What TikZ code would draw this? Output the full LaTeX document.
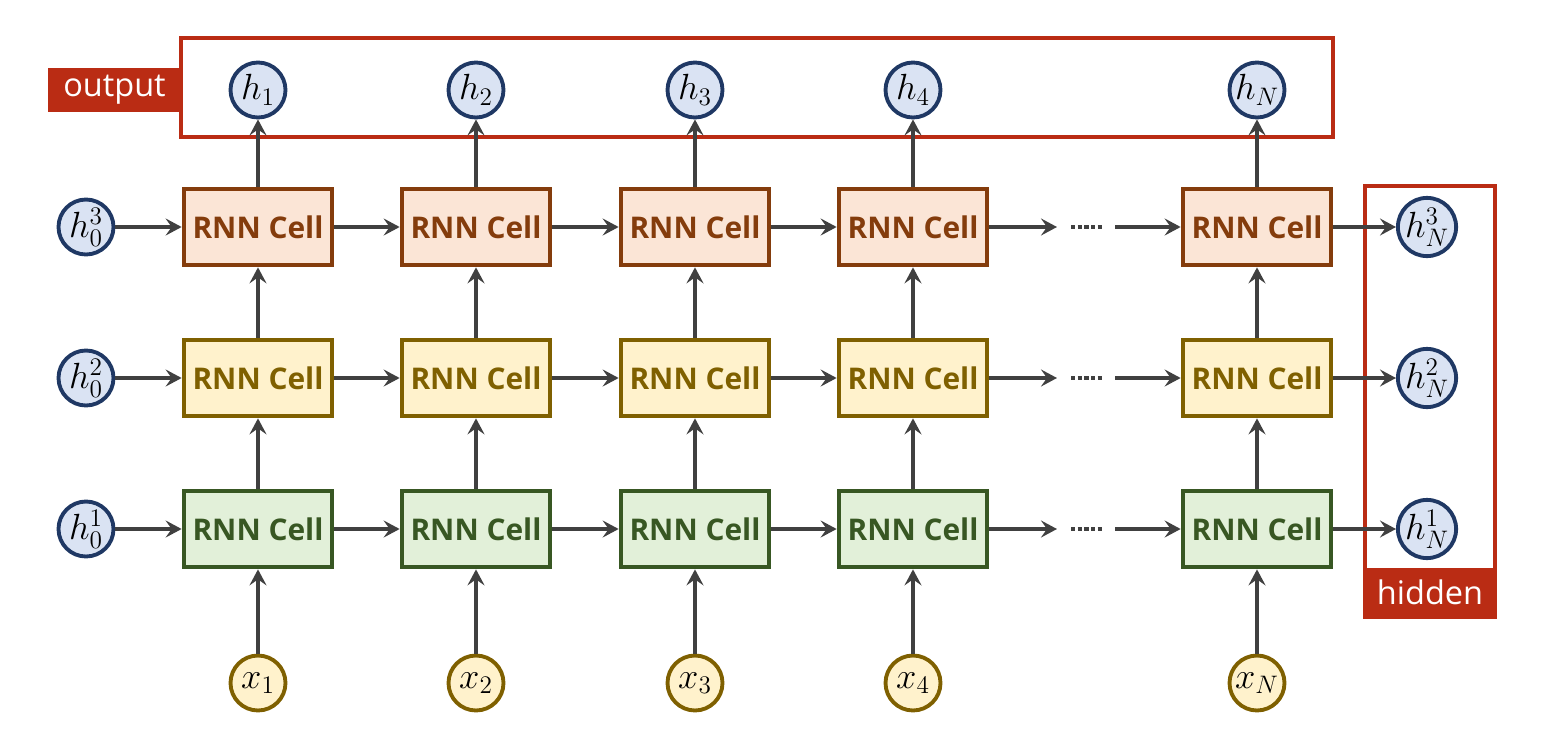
\documentclass[tikz,border=0pt]{standalone}
\usepackage{fontspec}
\setsansfont{Open Sans}
\usetikzlibrary{arrows.meta}
\definecolor{redc}{RGB}{186,44,20}
\definecolor{arr}{RGB}{64,64,64}
\definecolor{orB}{RGB}{132,60,12}\definecolor{orF}{RGB}{251,229,214}
\definecolor{yeB}{RGB}{127,96,0}\definecolor{yeF}{RGB}{255,242,204}
\definecolor{grB}{RGB}{56,87,35}\definecolor{grF}{RGB}{226,240,217}
\definecolor{blB}{RGB}{31,56,100}\definecolor{blF}{RGB}{218,227,243}
\tikzset{
  cellbox/.style={draw, line width=2.7pt, minimum width=2.96cm, minimum height=1.52cm,
    font=\sffamily\bfseries\fontsize{17}{20}\selectfont, inner sep=0pt},
  cellA/.style={cellbox, draw=orB, fill=orF, text=orB},
  cellB/.style={cellbox, draw=yeB, fill=yeF, text=yeB},
  cellC/.style={cellbox, draw=grB, fill=grF, text=grB},
  hcirc/.style={circle, draw=blB, fill=blF, line width=2.2pt, minimum size=1.1cm, inner sep=0pt,
    font=\fontsize{20}{22}\selectfont},
  xcirc/.style={circle, draw=yeB, fill=yeF, line width=2.2pt, minimum size=1.1cm, inner sep=0pt,
    font=\fontsize{20}{22}\selectfont},
  conn/.style={draw=arr, line width=2pt, -{Stealth[length=0.32cm, width=0.34cm, inset=0.12cm]}},
  redframe/.style={draw=redc, line width=2.8pt},
  redlabel/.style={fill=redc, text=white, inner sep=0pt, font=\sffamily\fontsize{18.5}{20}\selectfont},
}
\begin{document}
\begin{tikzpicture}[x=0.02cm, y=-0.02cm]
\useasboundingbox (0,0) rectangle (1551,730);
% red frames
\draw[redframe] (181,38) rectangle (1333,137);
\draw[redframe] (1365,186) rectangle (1495,617);
\node[redlabel, minimum width=2.66cm, minimum height=0.88cm] (outlab) at (114.5,90) {output};
\node[redlabel, minimum width=2.6cm, minimum height=0.98cm] (hidlab) at (1430,592.5) {hidden};
% left initial states
\node[hcirc] (h03) at (86,227) {$h_0^3$};
\node[hcirc] (h02) at (86,378) {$h_0^2$};
\node[hcirc] (h01) at (86,529) {$h_0^1$};
% right final states
\node[hcirc] (hN3) at (1427,227) {$h_N^3$};
\node[hcirc] (hN2) at (1427,378) {$h_N^2$};
\node[hcirc] (hN1) at (1427,529) {$h_N^1$};
% columns
\foreach \c/\x/\s in {1/258/1,2/476/2,3/695/3,4/913/4,5/1257/N}{
  \node[cellA] (a\c) at (\x,227) {RNN Cell};
  \node[cellB] (b\c) at (\x,378) {RNN Cell};
  \node[cellC] (g\c) at (\x,529) {RNN Cell};
  \node[hcirc] (o\c) at (\x,90) {$h_{\s}$};
  \node[xcirc] (x\c) at (\x,683) {$x_{\s}$};
  \draw[conn] (x\c) -- (g\c);
  \draw[conn] (g\c) -- (b\c);
  \draw[conn] (b\c) -- (a\c);
  \draw[conn] (a\c) -- (o\c);
}
% horizontal connections
\foreach \r/\y in {a/227,b/378,g/529}{
  \draw[conn] (\r1) -- (\r2);
  \draw[conn] (\r2) -- (\r3);
  \draw[conn] (\r3) -- (\r4);
  \coordinate (\r e) at (1057,\y);
  \coordinate (\r ds) at (1071,\y);
  \coordinate (\r de) at (1102,\y);
  \coordinate (\r s) at (1115,\y);
  \draw[conn] (\r4) -- (\r e);
  \draw[arr, line width=2.8pt, dash pattern=on 2.4pt off 1.4pt] (\r ds) -- (\r de);
  \draw[conn] (\r s) -- (\r5);
}
\draw[conn] (h03) -- (a1);
\draw[conn] (h02) -- (b1);
\draw[conn] (h01) -- (g1);
\draw[conn] (a5) -- (hN3);
\draw[conn] (b5) -- (hN2);
\draw[conn] (g5) -- (hN1);
\end{tikzpicture}
\end{document}
